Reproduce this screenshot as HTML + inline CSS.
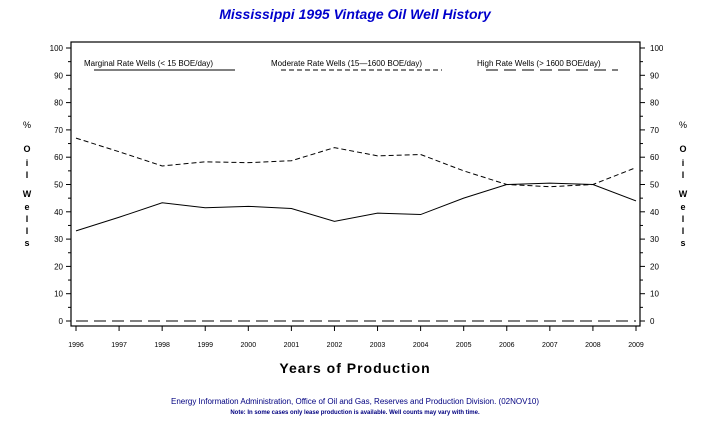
<!DOCTYPE html>
<html><head><meta charset="utf-8"><style>
body{margin:0;background:#fff;width:712px;height:418px;overflow:hidden;font-family:"Liberation Sans",sans-serif}
</style></head><body>
<svg id="chart" width="712" height="418" xmlns="http://www.w3.org/2000/svg" font-family="Liberation Sans, sans-serif">
<text x="355" y="19" text-anchor="middle" font-size="14" font-style="italic" font-weight="bold" fill="#0000cc">Mississippi 1995 Vintage Oil Well History</text>
<rect x="71" y="42" width="569" height="284" fill="none" stroke="#000" stroke-width="1.2"/>
<g id="axes"></g>
<g id="series"></g>
<g font-size="8">
<text x="84" y="66">Marginal Rate Wells (&lt;  15 BOE/day)</text>
<line x1="94" y1="70" x2="235" y2="70" stroke="#000"/>
<text x="271" y="66">Moderate Rate Wells (15—1600 BOE/day)</text>
<line x1="281" y1="70" x2="442" y2="70" stroke="#000" stroke-dasharray="5,3"/>
<text x="477" y="66">High Rate Wells (&gt; 1600 BOE/day)</text>
<line x1="486" y1="70" x2="618" y2="70" stroke="#000" stroke-dasharray="12,6"/>
</g>
<g font-size="9" font-weight="bold" text-anchor="middle">
<text x="27" y="128" font-weight="normal">%</text><text x="27" y="152">O</text><text x="27" y="166">i</text><text x="27" y="178">l</text><text x="27" y="197">W</text><text x="27" y="210">e</text><text x="27" y="222">l</text><text x="27" y="234">l</text><text x="27" y="246">s</text>
</g>
<g font-size="9" font-weight="bold" text-anchor="middle">
<text x="683" y="128" font-weight="normal">%</text><text x="683" y="152">O</text><text x="683" y="166">i</text><text x="683" y="178">l</text><text x="683" y="197">W</text><text x="683" y="210">e</text><text x="683" y="222">l</text><text x="683" y="234">l</text><text x="683" y="246">s</text>
</g>
<text x="355" y="373" text-anchor="middle" font-size="14" font-weight="bold" letter-spacing="1">Years of Production</text>
<text x="355" y="404" text-anchor="middle" font-size="8" fill="#000080">Energy Information Administration, Office of Oil and Gas, Reserves and Production Division. (02NOV10)</text>
<text x="355" y="414" text-anchor="middle" font-size="6" font-weight="bold" fill="#000080">Note: In some cases only lease production is available. Well counts may vary with time.</text>
</svg>
<script>
const years=[1996,1997,1998,1999,2000,2001,2002,2003,2004,2005,2006,2007,2008,2009];
const marginal=[33,38,43.3,41.5,42,41.2,36.5,39.5,39,45,50,50.5,50,44];
const moderate=[67,62,56.8,58.3,58,58.7,63.5,60.5,61,55,50,49.2,50,56.2];
const high=[0,0,0,0,0,0,0,0,0,0,0,0,0,0];
const yTicks=[0,10,20,30,40,50,60,70,80,90,100];
const NS='http://www.w3.org/2000/svg';
const x=y=>76+(y-1996)*(636-76)/13;
const yv=v=>321-v*2.73;
function mk(t,a,p){const e=document.createElementNS(NS,t);for(const k in a)e.setAttribute(k,a[k]);p.appendChild(e);return e;}
const ax=document.getElementById('axes');
yTicks.forEach(v=>{
 const l=mk('line',{x1:66,x2:71,y1:yv(v),y2:yv(v),stroke:'#000'},ax);
 
 
 const r=mk('line',{x1:640,x2:645,y1:yv(v),y2:yv(v),stroke:'#000'},ax);
 
 
 if(v<100){
  const m=mk('line',{x1:68,x2:71,y1:yv(v+5),y2:yv(v+5),stroke:'#000'},ax);
  
  
  const m2=mk('line',{x1:640,x2:643,y1:yv(v+5),y2:yv(v+5),stroke:'#000'},ax);
  
  
 }
 const t=mk('text',{x:63,y:yv(v)+3,'text-anchor':'end','font-size':'8'},ax);t.textContent=v;
 
 
 const t2=mk('text',{x:650,y:yv(v)+3,'font-size':'8'},ax);t2.textContent=v;
 
 
});
years.forEach(yr=>{
 const l=mk('line',{x1:x(yr),x2:x(yr),y1:326,y2:331,stroke:'#000'},ax);
 
 
 const t=mk('text',{x:x(yr),y:347,'text-anchor':'middle','font-size':'7'},ax);t.textContent=yr;
 
 
});
const sg=document.getElementById('series');
[[marginal,'none','marginal-line'],[moderate,'5,3','moderate-line'],[high,'12,6','high-line']].forEach(([d,da,n])=>{
 const p=mk('polyline',{points:d.map((v,i)=>x(years[i])+','+yv(v)).join(' '),fill:'none',stroke:'#000','stroke-width':'1','stroke-dasharray':da},sg);
 
 
});
</script>
</body></html>
